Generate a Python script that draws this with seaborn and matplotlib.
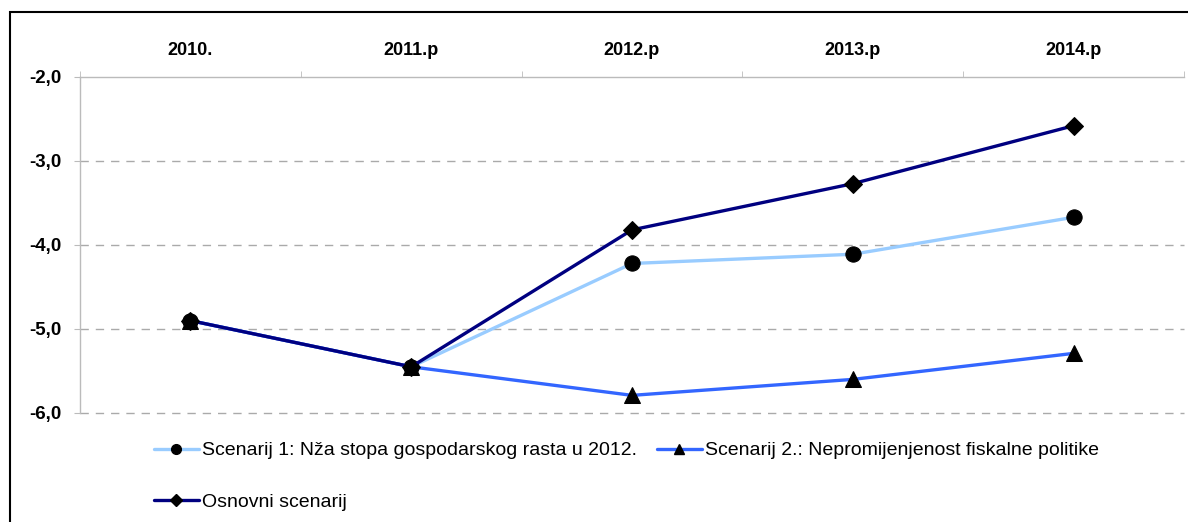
import matplotlib
matplotlib.use("Agg")
import matplotlib.pyplot as plt
import seaborn as sns
import pandas as pd
from matplotlib.patches import Rectangle
from matplotlib.lines import Line2D

categories = ["2010.", "2011.p", "2012.p", "2013.p", "2014.p"]
scenarij1 = [-4.90, -5.45, -4.22, -4.11, -3.67]
scenarij2 = [-4.90, -5.45, -5.79, -5.60, -5.29]
osnovni = [-4.90, -5.45, -3.82, -3.27, -2.58]

names = ["Scenarij 1: Nža stopa gospodarskog rasta u 2012.",
         "Scenarij 2.: Nepromijenjenost fiskalne politike",
         "Osnovni scenarij"]
colors = {names[0]: "#99CCFF", names[1]: "#3366FF", names[2]: "#000080"}
markers = {names[0]: "o", names[1]: "^", names[2]: "D"}
msizes = {names[0]: 11, names[1]: 11, names[2]: 9}

rows = []
for nm, vals in zip(names, [scenarij1, scenarij2, osnovni]):
    for i, v in enumerate(vals):
        rows.append({"pos": i, "val": v, "serie": nm})
df = pd.DataFrame(rows)

sns.set_style("white")
plt.rcParams["font.family"] = ["Liberation Sans", "DejaVu Sans"]
plt.rcParams["text.color"] = "black"
plt.rcParams["xtick.labelcolor"] = "black"
plt.rcParams["ytick.labelcolor"] = "black"

fig = plt.figure(figsize=(11.88, 5.22), dpi=100)
ax = fig.add_axes([80/1188, 1-413/522, (1184-80)/1188, (413-77)/522])

for nm in names:
    sub = df[df["serie"] == nm]
    sns.lineplot(data=sub, x="pos", y="val", ax=ax, color=colors[nm], lw=2.4,
                 marker=markers[nm], markersize=msizes[nm], markerfacecolor="black",
                 markeredgecolor="black", legend=False, zorder=3)

ax.set_xlim(-0.5, len(categories)-0.5)
ax.set_ylim(-6.0, -2.0)
ax.set_xlabel("")
ax.set_ylabel("")

ax.xaxis.tick_top()
ax.set_xticks(range(len(categories)))
ax.set_xticklabels(categories, fontsize=13, fontweight="bold", color="black")
ax.tick_params(axis="x", which="major", length=0, pad=13)
ax.set_xticks([i-0.5 for i in range(len(categories)+1)], minor=True)
ax.tick_params(axis="x", which="minor", length=4, color="#BBBBBB", top=True)

yt = [-6.0, -5.0, -4.0, -3.0, -2.0]
ax.set_yticks(yt)
ax.set_yticklabels([f"{v:.1f}".replace(".", ",") for v in yt], fontsize=13.5,
                   fontweight="bold", color="black")
ax.tick_params(axis="y", length=4, color="#BBBBBB", pad=9, left=True)

for v in yt[:-1]:
    ax.axhline(v, color="#AAAAAA", lw=1.0, ls=(0, (6, 5)), zorder=1, clip_on=False)

for s in ["right", "bottom"]:
    ax.spines[s].set_visible(False)
for s in ["top", "left"]:
    ax.spines[s].set_color("#BBBBBB")
    ax.spines[s].set_linewidth(1.0)

handles = [Line2D([], [], color=colors[nm], lw=2.4, marker=markers[nm],
                  markersize=7 if markers[nm] != "D" else 6,
                  markerfacecolor="black", markeredgecolor="black") for nm in names]
order = [0, 2, 1]
leg = fig.legend([handles[i] for i in order], [names[i] for i in order],
                 ncol=2, loc="upper left", bbox_to_anchor=(146/1188, 1-434/522),
                 frameon=False, fontsize=14, handlelength=2.3, handletextpad=0.2,
                 columnspacing=1.0, labelspacing=1.75, borderaxespad=0,
                 labelcolor="black")

fig.patches.append(Rectangle((10/1188, -0.05), 1.1, 1-12/522+0.05,
                             transform=fig.transFigure, fill=False,
                             edgecolor="black", lw=1.5, zorder=0))

fig.savefig("out.png", dpi=100)
